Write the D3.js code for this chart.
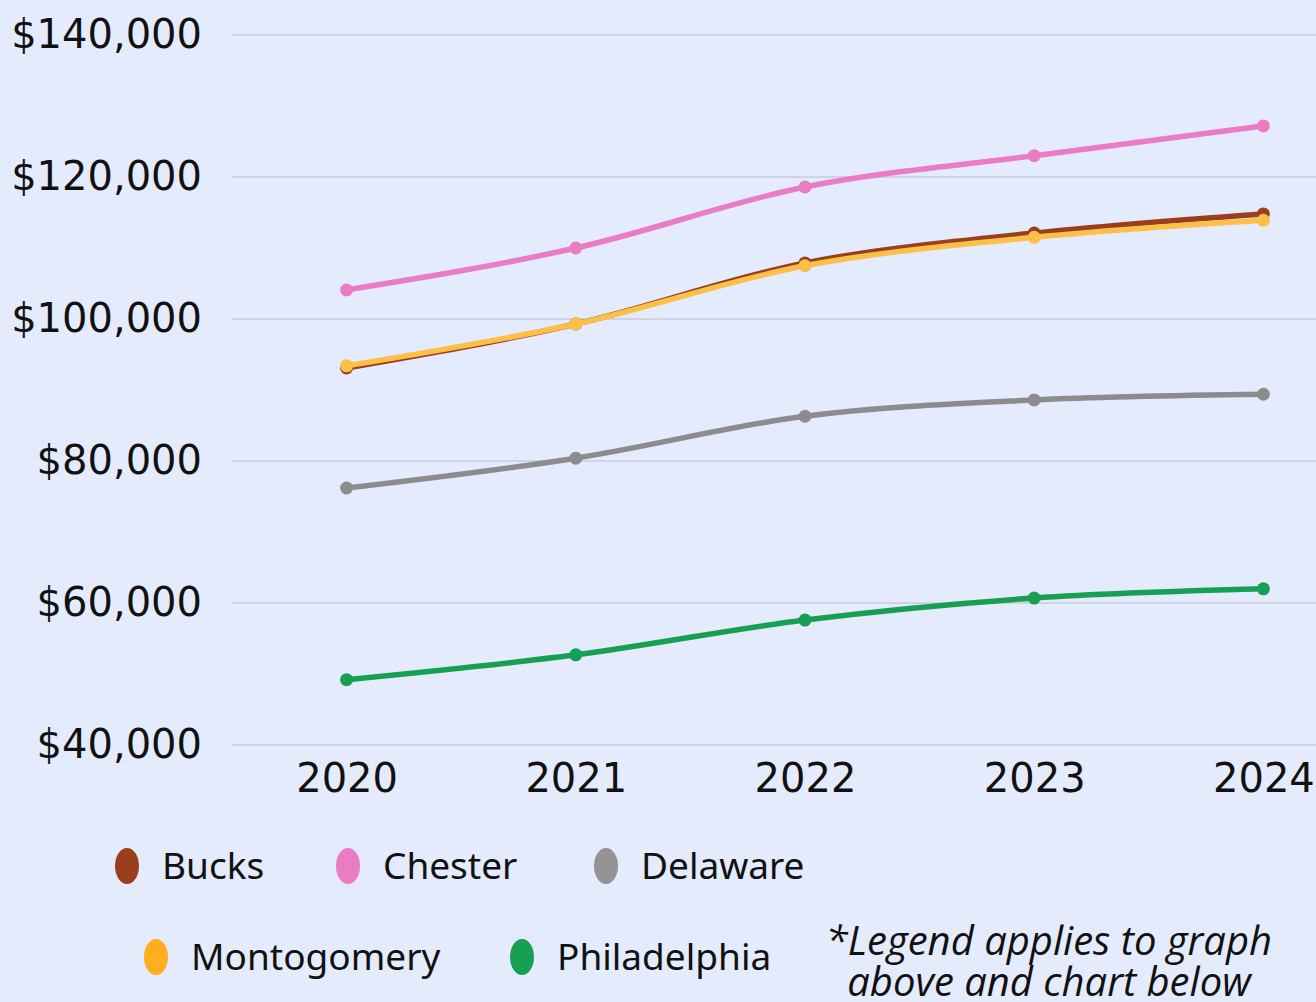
<!DOCTYPE html>
<html lang="en">
<head>
    <meta charset="UTF-8">
    <title>Median household income by county</title>
    <script src="https://cdn.jsdelivr.net/npm/d3@7/dist/d3.min.js"></script>
    <style>
        html, body { margin: 0; padding: 0; background: #e4ebfd; }
        svg { display: block; }
        .axis text { fill: #111; font-family: "DejaVu Sans", sans-serif; font-size: 40px; }
        .grid line { stroke: #b6bccb; stroke-width: 1; }
        .legend text { fill: #111; font-family: "Noto Sans", sans-serif; font-size: 37px; }
        .note { fill: #111; font-family: "Open Sans", sans-serif; font-size: 40px; font-style: italic; }
    </style>
</head>
<body>
<script>
    const width = 1316;
    const height = 1002;

    const years = ['2020', '2021', '2022', '2023', '2024'];
    const bucks = [93100, 99300, 107900, 112100, 114800];
    const chester = [104100, 110000, 118600, 123000, 127200];
    const delaware = [76200, 80400, 86300, 88600, 89400];
    const montgomery = [93400, 99300, 107500, 111500, 113900];
    const philadelphia = [49200, 52700, 57600, 60700, 62000];
    const yTicks = [40000, 60000, 80000, 100000, 120000, 140000];

    const series = [
        { name: 'Chester', values: chester, color: '#e97cc5' },
        { name: 'Bucks', values: bucks, color: '#9b3e1b' },
        { name: 'Montogomery', values: montgomery, color: '#fcbf47' },
        { name: 'Delaware', values: delaware, color: '#8c8c8c' },
        { name: 'Philadelphia', values: philadelphia, color: '#17a054' }
    ];

    const svg = d3.select('body')
        .append('svg')
        .attr('width', width)
        .attr('height', height);

    svg.append('rect').attr('width', width).attr('height', height).attr('fill', '#e4ebfd');

    // scales
    const x = d3.scalePoint()
        .domain(years)
        .range([232, 1378])
        .padding(0.5);
    const y = d3.scaleLinear()
        .domain([40000, 140000])
        .range([745, 35]);

    // gridlines
    svg.append('g')
        .attr('class', 'grid')
        .selectAll('line')
        .data(yTicks)
        .enter()
        .append('line')
        .attr('x1', 232)
        .attr('x2', width)
        .attr('y1', d => y(d))
        .attr('y2', d => y(d));

    // y axis labels
    const yAxis = d3.axisLeft(y)
        .tickValues(yTicks)
        .tickSize(0)
        .tickPadding(0)
        .tickFormat(d => '$' + d3.format(',')(d));
    const gy = svg.append('g')
        .attr('class', 'axis')
        .attr('transform', 'translate(202, 0)')
        .call(yAxis);
    gy.select('.domain').remove();

    // x axis labels
    const xAxis = d3.axisBottom(x).tickSize(0).tickPadding(0);
    const gx = svg.append('g')
        .attr('class', 'axis')
        .attr('transform', 'translate(0, 764)')
        .call(xAxis);
    gx.select('.domain').remove();

    // lines
    const line = d3.line()
        .x((d, i) => x(years[i]))
        .y(d => y(d))
        .curve(d3.curveMonotoneX);

    series.forEach(function (s) {
        const g = svg.append('g');
        g.append('path')
            .attr('d', line(s.values))
            .attr('fill', 'none')
            .attr('stroke', s.color)
            .attr('stroke-width', 5.5)
            .attr('stroke-linecap', 'round');
        g.selectAll('circle')
            .data(s.values)
            .enter()
            .append('circle')
            .attr('cx', (d, i) => x(years[i]))
            .attr('cy', d => y(d))
            .attr('r', 6.5)
            .attr('fill', s.color);
    });

    // legend
    const legendItems = [
        { name: 'Bucks', color: '#9b3e1b', cx: 127, cy: 866 },
        { name: 'Chester', color: '#e97cc5', cx: 348, cy: 866 },
        { name: 'Delaware', color: '#939393', cx: 606, cy: 866 },
        { name: 'Montogomery', color: '#ffae1f', cx: 156, cy: 957 },
        { name: 'Philadelphia', color: '#17a054', cx: 522, cy: 957 }
    ];
    const legend = svg.append('g').attr('class', 'legend');
    const item = legend.selectAll('g')
        .data(legendItems)
        .enter()
        .append('g')
        .attr('transform', d => 'translate(' + d.cx + ',' + d.cy + ')');
    item.append('ellipse')
        .attr('rx', 12)
        .attr('ry', 18)
        .attr('fill', d => d.color);
    item.append('text')
        .attr('x', 35)
        .attr('dy', '0.35em')
        .text(d => d.name);

    // footnote
    const note = svg.append('text')
        .attr('class', 'note')
        .attr('text-anchor', 'middle')
        .attr('x', 1049)
        .attr('y', 955);
    note.append('tspan').attr('x', 1049).text('*Legend applies to graph');
    note.append('tspan').attr('x', 1049).attr('dy', 41).text('above and chart below');
</script>
</body>
</html>
